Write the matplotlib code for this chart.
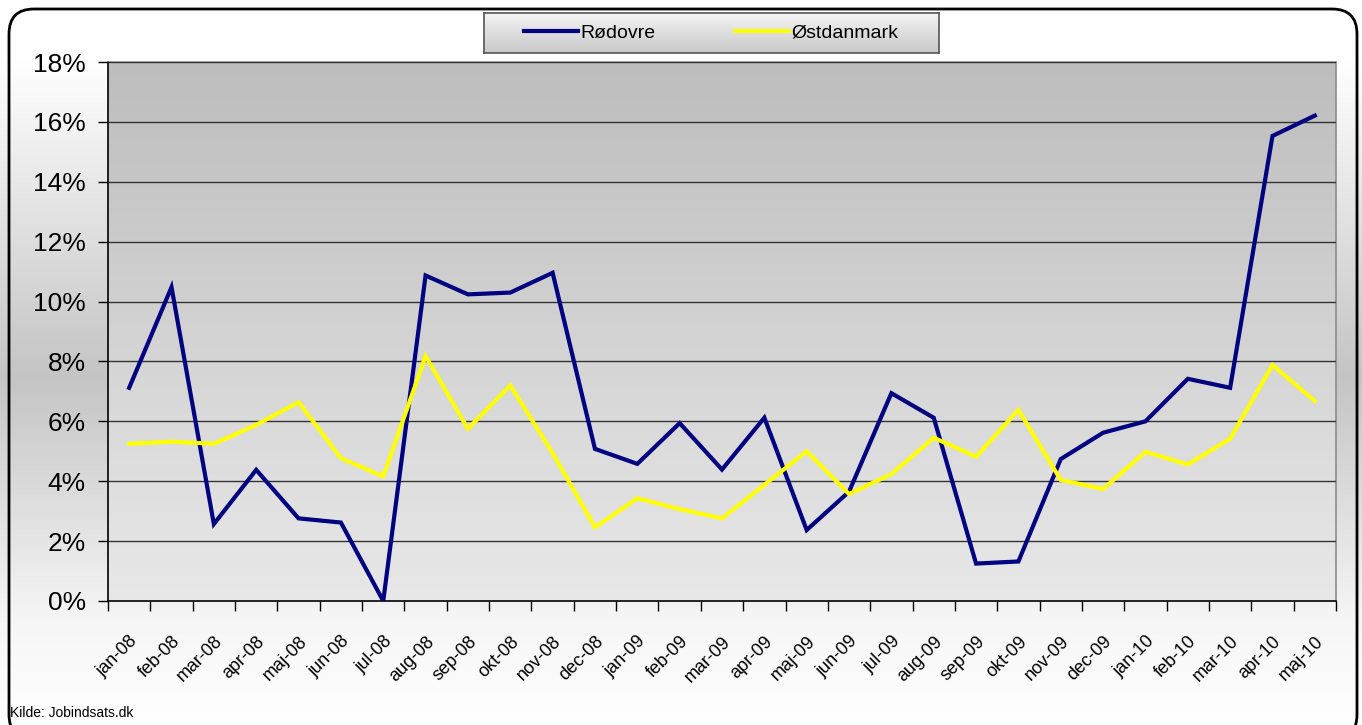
import numpy as np
import matplotlib.pyplot as plt
from matplotlib.patches import FancyBboxPatch
from matplotlib.colors import LinearSegmentedColormap
from matplotlib.ticker import FuncFormatter, FixedLocator
from matplotlib.transforms import ScaledTranslation

plt.rcParams['font.family'] = ['Liberation Sans', 'DejaVu Sans']

# -------- Data (andel, %) --------
months = ['jan-08', 'feb-08', 'mar-08', 'apr-08', 'maj-08', 'jun-08', 'jul-08',
          'aug-08', 'sep-08', 'okt-08', 'nov-08', 'dec-08',
          'jan-09', 'feb-09', 'mar-09', 'apr-09', 'maj-09', 'jun-09', 'jul-09',
          'aug-09', 'sep-09', 'okt-09', 'nov-09', 'dec-09',
          'jan-10', 'feb-10', 'mar-10', 'apr-10', 'maj-10']

rodovre = [7.12, 10.48, 2.57, 4.38, 2.76, 2.62, 0.0,
           10.87, 10.24, 10.30, 10.96, 5.08,
           4.58, 5.94, 4.39, 6.12, 2.37, 3.65, 6.94,
           6.12, 1.25, 1.32, 4.74, 5.62,
           6.00, 7.42, 7.12, 15.53, 16.21]

ostdanmark = [5.25, 5.32, 5.25, 5.88, 6.64, 4.77, 4.16,
              8.18, 5.75, 7.20, 4.94, 2.46,
              3.43, 3.07, 2.76, 3.88, 5.00, 3.57, 4.24,
              5.45, 4.82, 6.38, 4.04, 3.74,
              4.98, 4.56, 5.42, 7.88, 6.68]

W, H = 1362, 725
fig = plt.figure(figsize=(W / 100, H / 100), dpi=100)

# -------- Chart area background (vertical gradient) --------
bg = fig.add_axes([0, 0, 1, 1], zorder=-10)
bg_cmap = LinearSegmentedColormap.from_list(
    'bg', [(0.0, 'white'), (0.08, 'white'), (0.52, '#c4c4c4'),
           (0.86, '#f6f6f6'), (1.0, 'white')])
bg.imshow(np.linspace(0, 1, 256).reshape(-1, 1), cmap=bg_cmap, aspect='auto',
          extent=[0, 1, 0, 1], origin='upper')
bg.set_xlim(0, 1)
bg.set_ylim(0, 1)
bg.axis('off')
border = FancyBboxPatch((9 / W, -0.02), 1348 / W, (H - 9) / H + 0.02,
                        boxstyle=f'round,pad=0,rounding_size={25 / W}',
                        transform=bg.transAxes, facecolor='none',
                        edgecolor='black', linewidth=2, mutation_aspect=W / H)
bg.add_patch(border)
bg.text(10 / W, 1 - 717 / H, 'Kilde: Jobindsats.dk', fontsize=10,
        ha='left', va='baseline', transform=bg.transAxes)

# -------- Plot area --------
ax = fig.add_axes([108 / W, 1 - 601 / H, (1336 - 108) / W, (601 - 62) / H])
n = len(months)
x = np.arange(n) + 0.5

plot_cmap = LinearSegmentedColormap.from_list('pa', ['#bdbdbd', '#e8e8e8'])
ax.imshow(np.linspace(0, 1, 256).reshape(-1, 1), cmap=plot_cmap, aspect='auto',
          extent=[0, n, 0, 18], origin='upper', zorder=0)

ax.plot(x, rodovre, color='#000080', lw=3, label='Rødovre', zorder=3,
        solid_joinstyle='miter')
ax.plot(x, ostdanmark, color='#ffff00', lw=3, label='Østdanmark', zorder=3,
        solid_joinstyle='miter')

ax.set_xlim(0, n)
ax.set_ylim(0, 18)
ax.set_yticks(np.arange(0, 19, 2))
ax.yaxis.set_major_formatter(FuncFormatter(lambda v, p: f'{v:.0f}%'))
ax.grid(axis='y', color='#333333', lw=1, zorder=1)
ax.set_axisbelow(False)

ax.xaxis.set_major_locator(FixedLocator(x))
ax.set_xticklabels(months, rotation=45, ha='right', va='top',
                   rotation_mode='anchor', fontsize=13)
shift = ScaledTranslation(-11 / 100, 0, fig.dpi_scale_trans)
for lab in ax.get_xticklabels():
    lab.set_transform(lab.get_transform() + shift)
ax.xaxis.set_minor_locator(FixedLocator(np.arange(n + 1)))
ax.tick_params(axis='x', which='major', length=0, pad=23)
ax.tick_params(axis='x', which='minor', length=7, width=1, direction='out')
ax.tick_params(axis='y', length=7, width=1, direction='out', labelsize=19, pad=9)

for s in ['left', 'bottom']:
    ax.spines[s].set_color('black')
    ax.spines[s].set_linewidth(1.2)
for s in ['top', 'right']:
    ax.spines[s].set_color('#8c8c8c')
    ax.spines[s].set_linewidth(1.2)

# -------- Legend box --------
lg = fig.add_axes([484 / W, 1 - 53 / H, (939 - 484) / W, (53 - 13) / H], zorder=5)
lg_cmap = LinearSegmentedColormap.from_list('lg', ['#f4f4f4', '#c8c8c8'])
lg.imshow(np.linspace(0, 1, 64).reshape(-1, 1), cmap=lg_cmap, aspect='auto',
          extent=[0, 1, 0, 1], origin='upper')
lg.set_xticks([])
lg.set_yticks([])
for s in lg.spines.values():
    s.set_color('#555555')
    s.set_linewidth(1.2)
handles, labels = ax.get_legend_handles_labels()
lg.legend(handles, labels, loc='center', ncol=2, frameon=False, fontsize=14,
          handlelength=2.75, handletextpad=0.15, columnspacing=4.1,
          bbox_to_anchor=(0.5, 0.5))

fig.savefig('out.png', dpi=100)
